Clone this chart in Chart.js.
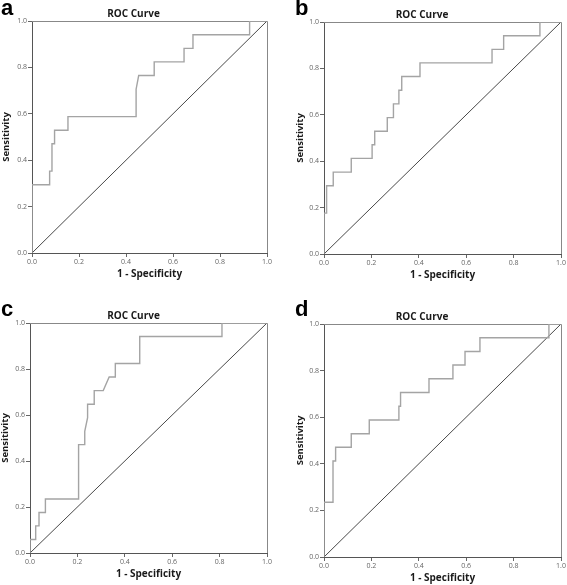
<!DOCTYPE html>
<html>
<head>
<meta charset="utf-8">
<script src="https://cdn.jsdelivr.net/npm/chart.js@4.4.1/dist/chart.umd.min.js"></script>
<style>
    body { margin: 0; background: #fff; }
    #wrap { position: relative; width: 567px; height: 585px; overflow: hidden; }
    #wrap canvas { position: absolute; }
    .tag { position: absolute; font: bold 22px "Liberation Sans", Arial, sans-serif; color: #000; line-height: 1; }
</style>
</head>
<body>
<div id="wrap">
    <canvas id="cA" width="283" height="290" style="left:0;top:0"></canvas>
    <canvas id="cB" width="284" height="290" style="left:283px;top:0"></canvas>
    <canvas id="cC" width="283" height="295" style="left:0;top:290px"></canvas>
    <canvas id="cD" width="284" height="295" style="left:283px;top:290px"></canvas>
    <div class="tag" style="left:1px;top:-3px">a</div>
    <div class="tag" style="left:295px;top:-3px">b</div>
    <div class="tag" style="left:1px;top:298px">c</div>
    <div class="tag" style="left:295px;top:298px">d</div>
</div>
<script>
// ROC points: 1 - specificity (x) and sensitivity (y)
const fprA = [0, 0, 0.075, 0.075, 0.085, 0.085, 0.096, 0.096, 0.153, 0.153, 0.443, 0.443, 0.454, 0.52, 0.52, 0.647, 0.647, 0.685, 0.685, 0.926, 0.926, 1];
const tprA = [0, 0.294, 0.294, 0.353, 0.353, 0.471, 0.471, 0.529, 0.529, 0.588, 0.588, 0.706, 0.765, 0.765, 0.824, 0.824, 0.882, 0.882, 0.941, 0.941, 1, 1];

const fprB = [0, 0, 0.011, 0.011, 0.039, 0.039, 0.115, 0.115, 0.203, 0.203, 0.214, 0.214, 0.267, 0.267, 0.293, 0.293, 0.316, 0.316, 0.328, 0.328, 0.405, 0.405, 0.709, 0.709, 0.758, 0.758, 0.911, 0.911, 1];
const tprB = [0, 0.176, 0.176, 0.294, 0.294, 0.353, 0.353, 0.412, 0.412, 0.471, 0.471, 0.529, 0.529, 0.588, 0.588, 0.647, 0.647, 0.706, 0.706, 0.765, 0.765, 0.824, 0.824, 0.882, 0.882, 0.941, 0.941, 1, 1];

const fprC = [0, 0, 0.024, 0.024, 0.038, 0.038, 0.065, 0.065, 0.205, 0.205, 0.231, 0.231, 0.243, 0.243, 0.271, 0.271, 0.309, 0.334, 0.36, 0.36, 0.463, 0.463, 0.81, 0.81, 1];
const tprC = [0, 0.059, 0.059, 0.118, 0.118, 0.176, 0.176, 0.235, 0.235, 0.471, 0.471, 0.529, 0.588, 0.647, 0.647, 0.706, 0.706, 0.765, 0.765, 0.824, 0.824, 0.941, 0.941, 1, 1];

const fprD = [0, 0, 0.038, 0.038, 0.049, 0.049, 0.115, 0.115, 0.191, 0.191, 0.316, 0.316, 0.323, 0.323, 0.443, 0.443, 0.544, 0.544, 0.595, 0.595, 0.658, 0.658, 0.949, 0.949, 1];
const tprD = [0, 0.235, 0.235, 0.412, 0.412, 0.471, 0.471, 0.529, 0.529, 0.588, 0.588, 0.647, 0.647, 0.706, 0.706, 0.765, 0.765, 0.824, 0.824, 0.882, 0.882, 0.941, 0.941, 1, 1];

// reference line
const diagX = [0, 1];
const diagY = [0, 1];

const titleText = "ROC Curve";
const xTitle = "1 - Specificity";
const yTitle = "Sensitivity";

const fontFamily = '"Open Sans", "Liberation Sans", Arial, sans-serif';

// box around the plot area (top and right edges; left/bottom come from the axes)
const frame = {
    id: "frame",
    beforeDatasetsDraw(chart) {
        const { ctx, chartArea: a } = chart;
        ctx.save();
        ctx.strokeStyle = "#888";
        ctx.lineWidth = 1;
        ctx.beginPath();
        ctx.moveTo(a.left, a.top + 0.5);
        ctx.lineTo(a.right + 0.5, a.top + 0.5);
        ctx.lineTo(a.right + 0.5, a.bottom);
        ctx.stroke();
        ctx.restore();
    }
};

const toPoints = (xs, ys) => xs.map((x, i) => ({ x: x, y: ys[i] }));

function makeChart(p, fpr, tpr) {
    const titleLh = 10 * 1.2;
    const tickFont = { family: fontFamily, size: 7 };
    const axisTitleFont = { family: fontFamily, size: 10, weight: "bold", lineHeight: 1.2 };
    new Chart(document.getElementById(p.id), {
        type: "scatter",
        data: {
            datasets: [
                { data: toPoints(fpr, tpr), showLine: true, borderColor: "#a4a4a4", borderWidth: 1.4, pointRadius: 0 },
                { data: toPoints(diagX, diagY), showLine: true, borderColor: "#333", borderWidth: 0.9, pointRadius: 0 }
            ]
        },
        options: {
            responsive: false,
            animation: false,
            devicePixelRatio: 1,
            layout: { padding: { left: 0, right: p.padR, top: 0, bottom: 0 } },
            plugins: {
                legend: { display: false },
                tooltip: { enabled: false },
                title: {
                    display: true,
                    text: titleText,
                    color: "#1a1a1a",
                    font: { family: fontFamily, size: 10, weight: "bold", lineHeight: 1.2 },
                    padding: { top: p.plotTop - 7 - titleLh / 2, bottom: 7 - titleLh / 2 }
                }
            },
            scales: {
                x: {
                    type: "linear", min: 0, max: 1,
                    ticks: { stepSize: 0.2, font: tickFont, color: "#666", padding: 1, maxRotation: 0,
                        callback: (v) => Number(v).toFixed(1) },
                    grid: { drawOnChartArea: false, tickLength: 4, color: "#666" },
                    border: { color: "#555" },
                    title: { display: true, text: xTitle, color: "#1a1a1a", font: axisTitleFont,
                        padding: { top: 0, bottom: p.xTitlePad } },
                    afterFit: (s) => { s.height = p.xH; }
                },
                y: {
                    type: "linear", min: 0, max: 1,
                    ticks: { stepSize: 0.2, font: tickFont, color: "#666", padding: 1,
                        callback: (v) => Number(v).toFixed(1) },
                    grid: { drawOnChartArea: false, tickLength: 4, color: "#666" },
                    border: { color: "#555" },
                    title: { display: true, text: yTitle, color: "#1a1a1a", font: { family: fontFamily, size: 9.5, weight: "bold", lineHeight: 1.2 },
                        padding: { top: p.yTitlePad, bottom: 0 } },
                    afterFit: (s) => { s.width = p.yW; }
                }
            }
        },
        plugins: [frame]
    });
}

makeChart({ id: "cA", yW: 32, padR: 16, plotTop: 21, xH: 37, yTitlePad: 0.5, xTitlePad: 10 }, fprA, tprA);
makeChart({ id: "cB", yW: 41, padR: 6, plotTop: 22, xH: 36, yTitlePad: 11.3, xTitlePad: 9 }, fprB, tprB);
makeChart({ id: "cC", yW: 30, padR: 16, plotTop: 33, xH: 32, yTitlePad: 0, xTitlePad: 5 }, fprC, tprC);
makeChart({ id: "cD", yW: 41, padR: 6, plotTop: 34, xH: 28, yTitlePad: 11.3, xTitlePad: 1 }, fprD, tprD);
</script>
</body>
</html>
